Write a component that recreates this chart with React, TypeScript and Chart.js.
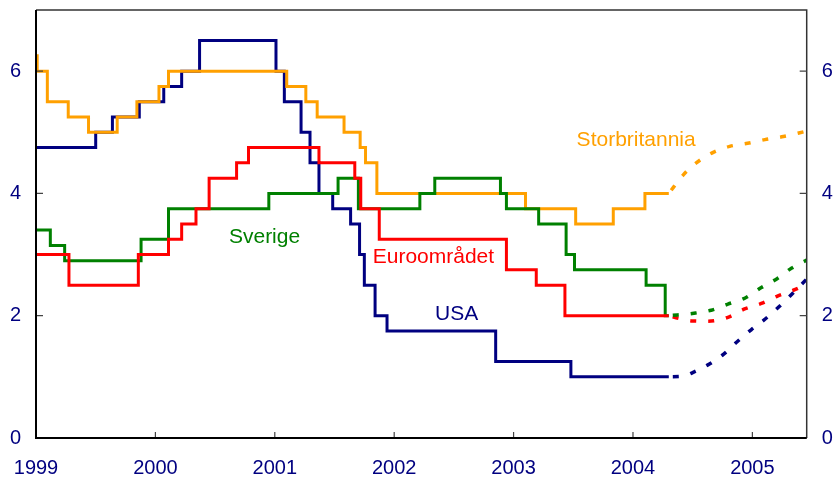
import React, { useEffect, useRef } from 'react';
import { Chart, registerables } from 'chart.js';

Chart.register(...registerables);

// ---- Axis ticks ----
const yearTicks = [1999, 2000, 2001, 2002, 2003, 2004, 2005];
const rateTicks = [0, 2, 4, 6];
const X_MIN = 1999;
const X_MAX = 2005.455;
const Y_MIN = 0;
const Y_MAX = 7;

// ---- Policy rates (date of change, new rate); last entry = end of history ----
const usaDates = [1999.0, 1999.5, 1999.64, 1999.865, 2000.07, 2000.22, 2000.37, 2001.01, 2001.08, 2001.22, 2001.295, 2001.37, 2001.485, 2001.635, 2001.71, 2001.75, 2001.84, 2001.94, 2002.85, 2003.48, 2004.3];
const usaRates = [4.75, 5.0, 5.25, 5.5, 5.75, 6.0, 6.5, 6.0, 5.5, 5.0, 4.5, 4.0, 3.75, 3.5, 3.0, 2.5, 2.0, 1.75, 1.25, 1.0, 1.0];

const ukDates = [1999.0, 1999.01, 1999.095, 1999.27, 1999.44, 1999.68, 1999.845, 2000.03, 2000.11, 2001.1, 2001.26, 2001.355, 2001.58, 2001.715, 2001.76, 2001.855, 2003.1, 2003.52, 2003.835, 2004.1, 2004.3];
const ukRates = [6.25, 6.0, 5.5, 5.25, 5.0, 5.25, 5.5, 5.75, 6.0, 5.75, 5.5, 5.25, 5.0, 4.75, 4.5, 4.0, 3.75, 3.5, 3.75, 4.0, 4.0];

const euroDates = [1999.0, 1999.276, 1999.857, 2000.11, 2000.22, 2000.34, 2000.45, 2000.68, 2000.78, 2001.37, 2001.67, 2001.72, 2001.875, 2002.94, 2003.19, 2003.43, 2004.3];
const euroRates = [3.0, 2.5, 3.0, 3.25, 3.5, 3.75, 4.25, 4.5, 4.75, 4.5, 4.25, 3.75, 3.25, 2.75, 2.5, 2.0, 2.0];

const sweDates = [1999.0, 1999.12, 1999.24, 1999.88, 2000.11, 2000.95, 2001.53, 2001.7, 2002.215, 2002.34, 2002.89, 2002.94, 2003.21, 2003.44, 2003.51, 2004.11, 2004.27, 2004.3];
const sweRates = [3.4, 3.15, 2.9, 3.25, 3.75, 4.0, 4.25, 3.75, 4.0, 4.25, 4.0, 3.75, 3.5, 3.0, 2.75, 2.5, 2.0, 2.0];

// ---- Market expectations (forward curves) ----
const usaFwdDates = [2004.3, 2004.42, 2004.5, 2004.64, 2004.76, 2004.87, 2004.99, 2005.11, 2005.225, 2005.33, 2005.455];
const usaFwdRates = [1.0, 1.01, 1.07, 1.21, 1.37, 1.57, 1.77, 1.95, 2.15, 2.35, 2.6];

const ukFwdDates = [2004.3, 2004.42, 2004.53, 2004.66, 2004.81, 2004.96, 2005.105, 2005.26, 2005.455];
const ukFwdRates = [4.0, 4.3, 4.5, 4.66, 4.77, 4.82, 4.88, 4.93, 5.02];

const euroFwdDates = [2004.3, 2004.4, 2004.5, 2004.62, 2004.79, 2004.935, 2005.075, 2005.21, 2005.36, 2005.455];
const euroFwdRates = [2.0, 1.95, 1.915, 1.91, 1.97, 2.11, 2.2, 2.32, 2.43, 2.52];

const sweFwdDates = [2004.3, 2004.51, 2004.655, 2004.795, 2004.94, 2005.075, 2005.21, 2005.33, 2005.455];
const sweFwdRates = [2.0, 2.04, 2.09, 2.19, 2.29, 2.46, 2.61, 2.78, 2.91];

// ---- Series names ----
const seriesNames = ['USA', 'Euroområdet', 'Sverige', 'Storbritannia'];

// ---- Styling ----
const NAVY = '#000080';
const RED = '#ff0000';
const GREEN = '#008000';
const ORANGE = '#ffa000';
const FONT = '"Liberation Sans", Arial, Helvetica, sans-serif';

// label anchors (data coordinates, left/baseline)
const labelX = [2002.342, 2001.82, 2000.616, 2003.528];
const labelY = [1.931, 2.869, 3.183, 4.779];
const labelColors = [NAVY, RED, GREEN, ORANGE];

const pts = (xs: number[], ys: number[]) => xs.map((x, i) => ({ x, y: ys[i] }));

const solid = (label: string, xs: number[], ys: number[], color: string) => ({
  label,
  data: pts(xs, ys),
  borderColor: color,
  backgroundColor: color,
  borderWidth: 3,
  stepped: 'before' as const,
  pointRadius: 0,
  fill: false,
  borderCapStyle: 'butt' as const,
  borderJoinStyle: 'miter' as const,
});

const dashed = (label: string, xs: number[], ys: number[], color: string) => ({
  label,
  data: pts(xs, ys),
  borderColor: color,
  backgroundColor: color,
  borderWidth: 3.5,
  borderDash: [6, 12],
  borderDashOffset: 14,
  cubicInterpolationMode: 'monotone' as const,
  tension: 0.4,
  pointRadius: 0,
  fill: false,
  borderCapStyle: 'butt' as const,
});

const framePlugin = {
  id: 'frame',
  afterDatasetsDraw(chart: any) {
    const { ctx, chartArea } = chart;
    const { left, right, top, bottom } = chartArea;
    const xs = chart.scales.x;
    const ys = chart.scales.y;
    ctx.save();
    // top & right
    ctx.strokeStyle = '#333333';
    ctx.lineWidth = 1.5;
    ctx.beginPath();
    ctx.moveTo(left, top);
    ctx.lineTo(right, top);
    ctx.lineTo(right, bottom);
    ctx.stroke();
    // ticks
    ctx.lineWidth = 1.2;
    ctx.strokeStyle = '#444444';
    ctx.beginPath();
    rateTicks.forEach((v) => {
      const y = ys.getPixelForValue(v);
      ctx.moveTo(left, y);
      ctx.lineTo(left + 7, y);
      ctx.moveTo(right - 7, y);
      ctx.lineTo(right, y);
    });
    yearTicks.forEach((v) => {
      const x = xs.getPixelForValue(v);
      ctx.moveTo(x, bottom);
      ctx.lineTo(x, bottom - 6);
    });
    ctx.stroke();
    // left & bottom
    ctx.strokeStyle = '#000000';
    ctx.lineWidth = 2;
    ctx.beginPath();
    ctx.moveTo(left, top);
    ctx.lineTo(left, bottom);
    ctx.lineTo(right, bottom);
    ctx.stroke();
    // series labels
    ctx.font = `21px ${FONT}`;
    ctx.textAlign = 'left';
    ctx.textBaseline = 'alphabetic';
    seriesNames.forEach((name, i) => {
      ctx.fillStyle = labelColors[i];
      ctx.fillText(name, xs.getPixelForValue(labelX[i]), ys.getPixelForValue(labelY[i]));
    });
    ctx.restore();
  },
};

export default function App() {
  const canvasRef = useRef<HTMLCanvasElement | null>(null);

  useEffect(() => {
    if (!canvasRef.current) return;
    const tickFont = { family: FONT, size: 20 };
    const yAxisCommon = {
      type: 'linear' as const,
      min: Y_MIN,
      max: Y_MAX,
      grid: { display: false, drawTicks: false },
      border: { display: false },
      ticks: { font: tickFont, color: NAVY, padding: 15, callback: (v: any) => String(v) },
      afterBuildTicks: (s: any) => {
        s.ticks = rateTicks.map((v) => ({ value: v }));
      },
    };
    const chart = new Chart(canvasRef.current, {
      type: 'line',
      data: {
        datasets: [
          dashed('Sverige prognose', sweFwdDates, sweFwdRates, GREEN),
          dashed('Euroområdet prognose', euroFwdDates, euroFwdRates, RED),
          dashed('USA prognose', usaFwdDates, usaFwdRates, NAVY),
          dashed('Storbritannia prognose', ukFwdDates, ukFwdRates, ORANGE),
          solid(seriesNames[1], euroDates, euroRates, RED),
          solid(seriesNames[2], sweDates, sweRates, GREEN),
          solid(seriesNames[3], ukDates, ukRates, ORANGE),
          solid(seriesNames[0], usaDates, usaRates, NAVY),
        ] as any,
      },
      options: {
        animation: false,
        responsive: false,
        maintainAspectRatio: false,
        layout: { padding: { top: 10, left: 0, right: 0, bottom: 0 } },
        plugins: { legend: { display: false }, tooltip: { enabled: false } },
        elements: { point: { radius: 0 } },
        scales: {
          x: {
            type: 'linear',
            position: 'bottom',
            min: X_MIN,
            max: X_MAX,
            grid: { display: false, drawTicks: false },
            border: { display: false },
            ticks: {
              font: tickFont,
              color: NAVY,
              padding: 18,
              maxRotation: 0,
              autoSkip: false,
              callback: (v: any) => String(v),
            },
            afterBuildTicks: (s: any) => {
              s.ticks = yearTicks.map((v) => ({ value: v }));
            },
            afterFit: (s: any) => {
              s.height = 39;
              s.paddingLeft = 0;
              s.paddingRight = 0;
            },
          },
          y: {
            ...yAxisCommon,
            position: 'left',
            afterFit: (s: any) => {
              s.width = 36;
              s.paddingTop = 0;
              s.paddingBottom = 0;
            },
          },
          y2: {
            ...yAxisCommon,
            position: 'right',
            afterFit: (s: any) => {
              s.width = 28.3;
              s.paddingTop = 0;
              s.paddingBottom = 0;
            },
          },
        } as any,
      },
      plugins: [framePlugin],
    });
    return () => chart.destroy();
  }, []);

  return (
    <div style={{ position: 'absolute', left: 0, top: 0, width: 835, height: 477, background: '#fff' }}>
      <canvas ref={canvasRef} width={835} height={477} style={{ width: 835, height: 477 }} />
    </div>
  );
}
